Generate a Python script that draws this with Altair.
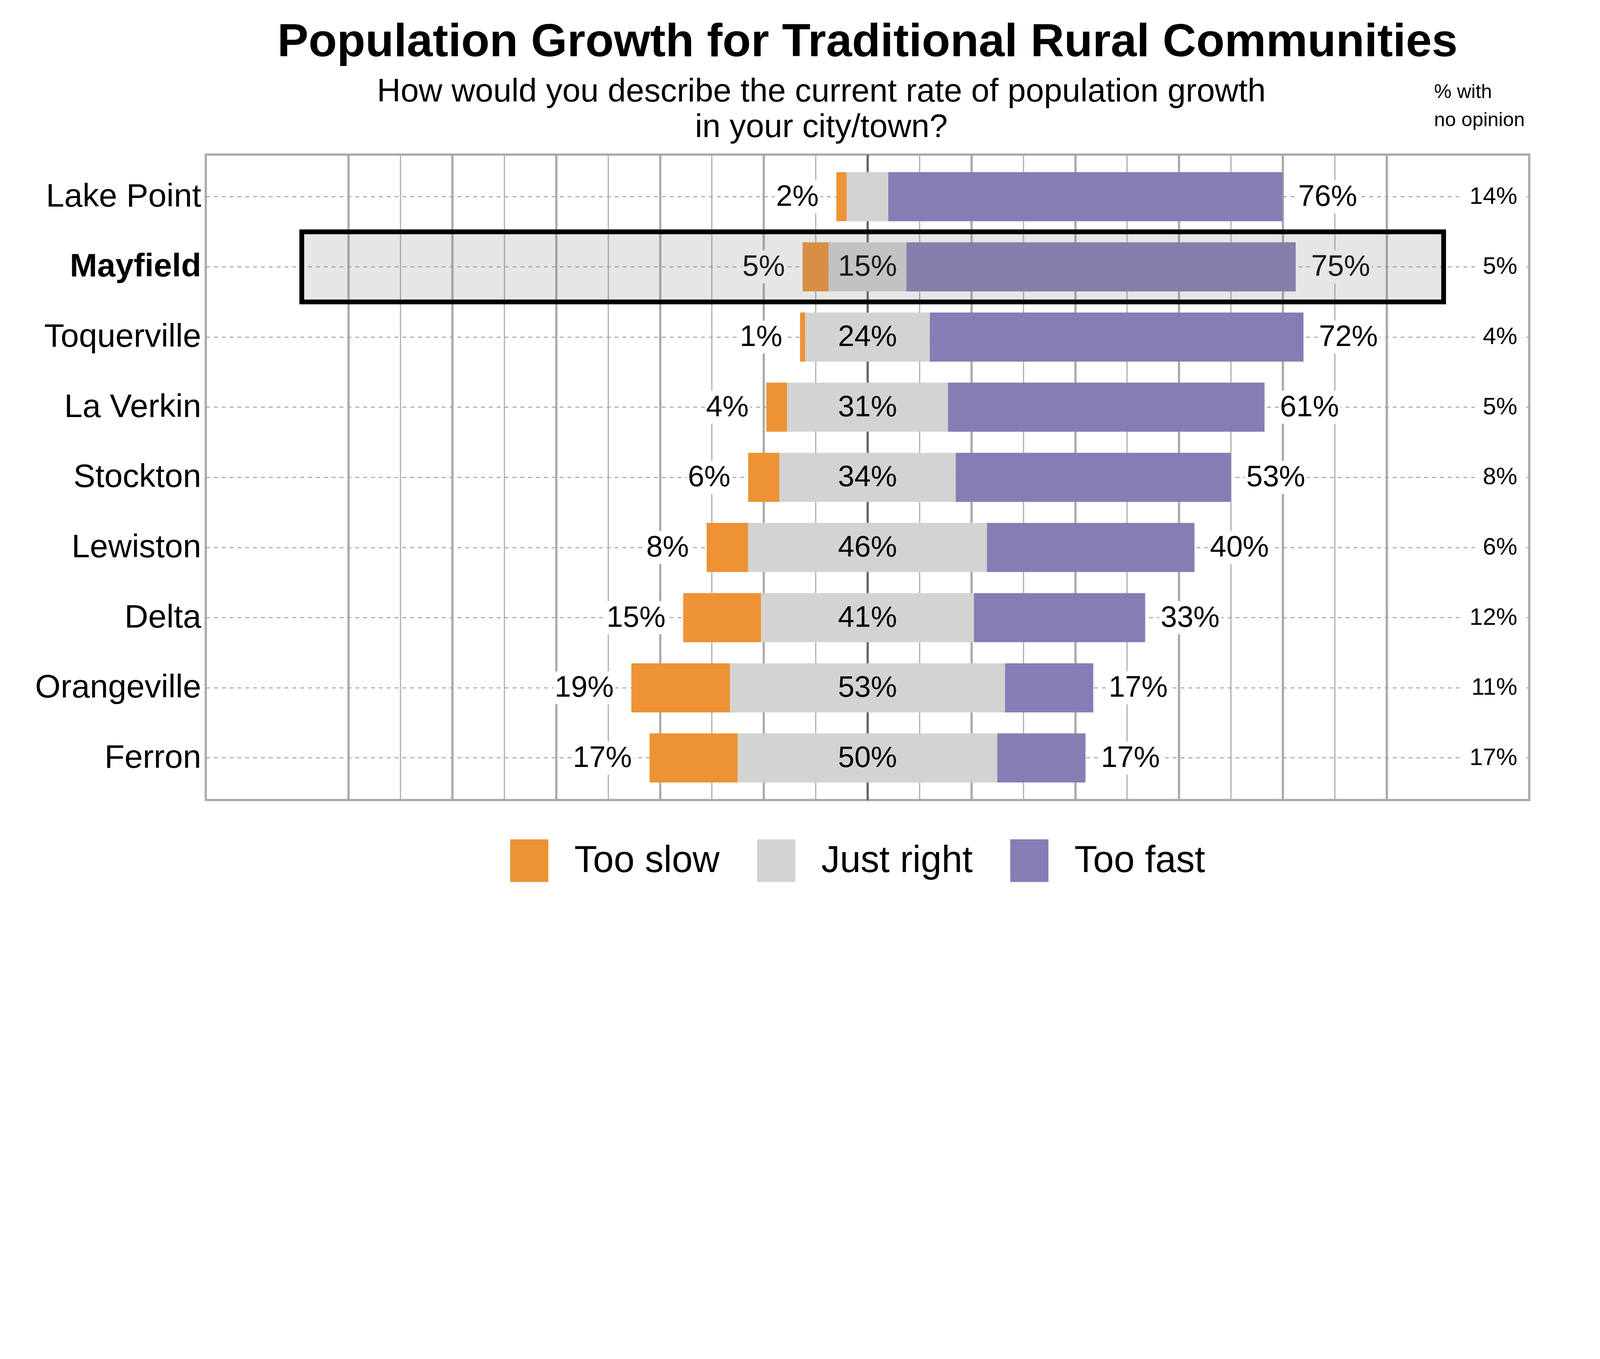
import altair as alt
import pandas as pd

# ---------------- data ----------------
cities = ["Lake Point", "Mayfield", "Toquerville", "La Verkin", "Stockton",
          "Lewiston", "Delta", "Orangeville", "Ferron"]
too_slow = [2, 5, 1, 4, 6, 8, 15, 19, 17]
just_right = [8, 15, 24, 31, 34, 46, 41, 53, 50]
too_fast = [76, 75, 72, 61, 53, 40, 33, 17, 17]
no_opinion = [14, 5, 4, 5, 8, 6, 12, 11, 17]
categories = ["Too slow", "Just right", "Too fast"]
colors = ["#EC9335", "#D3D3D3", "#887CB5"]
grid_ticks = list(range(-100, 101, 10))
highlight_city = "Mayfield"
highlight_span = [-109, 111]
no_opinion_col = 125.2          # x position (in %) of the "no opinion" column

title_text = "Population Growth for Traditional Rural Communities"
subtitle_lines = ["How would you describe the current rate of population growth",
                  "in your city/town?"]
header_lines = ["% with", "no opinion"]

# ---------------- layout constants ----------------
S = 4096 / 5700                 # CSS px per picture px


def s(v):
    return v * S


W, H = s(4715), s(2300)
PAD_L, PAD_T = s(733) - 8, s(551) - 8
TOTAL_W, TOTAL_H = 4080, 2484
PAD_R = TOTAL_W - PAD_L - W
PAD_B = TOTAL_H - PAD_T - H

X_DOMAIN = [-127.5, 127.5]
PX = W / (X_DOMAIN[1] - X_DOMAIN[0])      # CSS px per percentage point
FONT = "Liberation Sans"
LBL = s(105)      # bar label font size
NOP = s(85)       # no-opinion font size


def text_w(t, fs):
    return (0.556 * (len(t) - 1) + 0.889) * fs / PX


def off(v):
    return s(v) / PX


# ---------------- derived tables ----------------
bars = []
slow_lbl, fast_lbl, jr_lbl, nop_lbl, boxes = [], [], [], [], []
for c, sl, j, f, n in zip(cities, too_slow, just_right, too_fast, no_opinion):
    half = j / 2
    bars.append({"city": c, "category": "Too slow", "start": -(half + sl), "end": -half})
    bars.append({"city": c, "category": "Just right", "start": -half, "end": half})
    bars.append({"city": c, "category": "Too fast", "start": half, "end": half + f})

    t = f"{sl}%"
    xr = -(half + sl) - off(63)
    slow_lbl.append({"city": c, "x": xr, "label": t})
    boxes.append({"city": c, "x1": xr - text_w(t, LBL) - off(4), "x2": xr + off(6)})

    t = f"{f}%"
    xl = half + f + off(55)
    fast_lbl.append({"city": c, "x": xl, "label": t})
    boxes.append({"city": c, "x1": xl - off(4), "x2": xl + text_w(t, LBL) + off(6)})

    if j >= 10:
        jr_lbl.append({"city": c, "x": 0, "label": f"{j}%"})

    t = f"{n}%"
    nop_lbl.append({"city": c, "x": no_opinion_col, "label": t})
    boxes.append({"city": c, "x1": no_opinion_col - text_w(t, NOP) - off(28),
                  "x2": no_opinion_col + off(30)})

bars = pd.DataFrame(bars)
slow_lbl = pd.DataFrame(slow_lbl)
fast_lbl = pd.DataFrame(fast_lbl)
jr_lbl = pd.DataFrame(jr_lbl)
nop_lbl = pd.DataFrame(nop_lbl)
boxes = pd.DataFrame(boxes)
hl = pd.DataFrame({"city": [highlight_city], "x1": [highlight_span[0]], "x2": [highlight_span[1]]})
one = pd.DataFrame({"a": [0]})

# ---------------- encodings ----------------
y_scale = alt.Scale(domain=cities, paddingInner=0, paddingOuter=0.1)
y_axis = alt.Axis(
    title=None, domain=False, ticks=False, tickSize=0, labelPadding=s(17),
    labelFont=FONT, labelFontSize=s(117), labelColor="black", labelLimit=2000,
    labelFontWeight={"condition": {"test": f"datum.value === '{highlight_city}'", "value": "bold"},
                     "value": "normal"},
    grid=True, gridDash=[s(14), s(14)], gridColor="#a0a0a0", gridWidth=s(3.5),
)
Y = alt.Y("city:N", scale=y_scale, axis=y_axis, sort=cities)

x_scale = alt.Scale(domain=X_DOMAIN, nice=False, zero=False)
x_axis = alt.Axis(
    title=None, values=grid_ticks, labels=False, ticks=False, domain=False, grid=True,
    gridColor={"condition": {"test": "datum.value === 0", "value": "#666666"}, "value": "#aaaaaa"},
    gridWidth={"condition": {"test": "datum.value % 20 === 0", "value": s(8)}, "value": s(4)},
)


def X(field):
    return alt.X(field, scale=x_scale, axis=x_axis, title=None)


# ---------------- layers ----------------
bar_layer = alt.Chart(bars).mark_bar(height={"band": 0.7}).encode(
    x=X("start:Q"), x2="end:Q", y=Y,
    color=alt.Color(
        "category:N",
        scale=alt.Scale(domain=categories, range=colors),
        legend=alt.Legend(
            title=None, orient="none", direction="horizontal",
            legendX=s(1076), legendY=s(2439), padding=0,
            symbolType="M-0.895,-1H0.895V1H-0.895Z", symbolSize=s(152) ** 2,
            symbolStrokeWidth=0, symbolOpacity=1,
            labelFont=FONT, labelFontSize=s(133), labelColor="black", labelLimit=3000,
            labelOffset=s(84), columnPadding=s(124),
        ),
    ),
)

box_layer = alt.Chart(boxes).mark_bar(
    height=s(118), color="white", cornerRadius=s(14)
).encode(x=X("x1:Q"), x2="x2:Q", y=Y)

slow_text = alt.Chart(slow_lbl).mark_text(
    align="right", baseline="middle", font=FONT, fontSize=LBL, color="black"
).encode(x=X("x:Q"), y=Y, text="label:N")

fast_text = alt.Chart(fast_lbl).mark_text(
    align="left", baseline="middle", font=FONT, fontSize=LBL, color="black"
).encode(x=X("x:Q"), y=Y, text="label:N")

jr_text = alt.Chart(jr_lbl).mark_text(
    align="center", baseline="middle", font=FONT, fontSize=LBL, color="black"
).encode(x=X("x:Q"), y=Y, text="label:N")

nop_text = alt.Chart(nop_lbl).mark_text(
    align="right", baseline="middle", font=FONT, fontSize=NOP, color="black"
).encode(x=X("x:Q"), y=Y, text="label:N")

hl_layer = alt.Chart(hl).mark_rect(
    fill="#808080", fillOpacity=0.2, stroke="black", strokeWidth=s(17), strokeOpacity=1
).encode(x=X("x1:Q"), x2="x2:Q", y=Y)

title_layer = alt.Chart(one).mark_text(
    text=title_text, align="center", baseline="alphabetic",
    font=FONT, fontSize=s(166), fontWeight="bold", color="black"
).encode(x=alt.value(W / 2), y=alt.value(s(201 - 551)))

subtitle_layer = alt.Chart(one).mark_text(
    text=subtitle_lines, align="center", baseline="alphabetic", lineHeight=s(126),
    font=FONT, fontSize=s(116.5), color="black"
).encode(x=alt.value(s(2926 - 733)), y=alt.value(s(362 - 551)))

header_layer = alt.Chart(one).mark_text(
    text=header_lines, align="left", baseline="alphabetic", lineHeight=s(101),
    font=FONT, fontSize=s(70), color="black"
).encode(x=alt.value(s(5109 - 733)), y=alt.value(s(349 - 551)))

chart = alt.layer(
    bar_layer, box_layer, slow_text, fast_text, jr_text, nop_text, hl_layer,
    title_layer, subtitle_layer, header_layer,
).properties(
    width=W, height=H,
    autosize=alt.AutoSizeParams(type="none"),
    padding={"left": PAD_L, "top": PAD_T, "right": PAD_R, "bottom": PAD_B},
    background="white",
).configure_view(
    stroke="#aaaaaa", strokeWidth=s(8)
)

chart.save("out.html", embed_options={"renderer": "svg", "actions": False})
